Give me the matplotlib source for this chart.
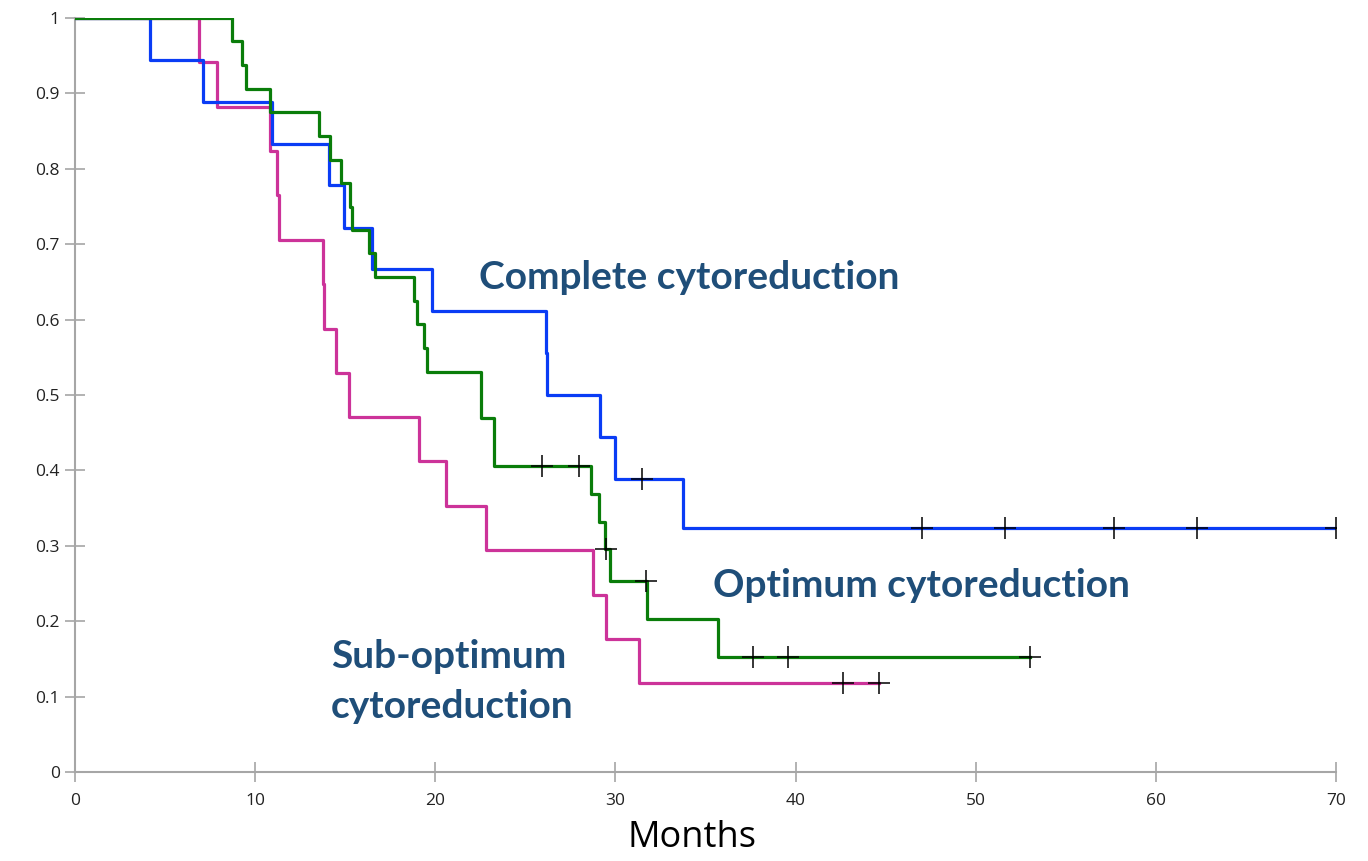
import matplotlib
matplotlib.use("Agg")
import matplotlib.pyplot as plt

# Kaplan-Meier step data (time in months, survival after step)
complete_t = [0, 4.17, 7.09, 10.96, 14.1, 14.94, 16.48, 19.8, 26.15, 26.2, 29.17, 29.96, 33.74, 70.0]
complete_s = [1.0, 0.944, 0.889, 0.833, 0.778, 0.722, 0.667, 0.611, 0.556, 0.5, 0.444, 0.389, 0.324, 0.324]
complete_cens_t = [31.5, 47.0, 51.6, 57.7, 62.3, 70.0]
complete_cens_s = [0.389, 0.324, 0.324, 0.324, 0.324, 0.324]

optimum_t = [0, 8.74, 9.26, 9.48, 10.83, 13.57, 14.13, 14.78, 15.28, 15.4, 16.3, 16.63,
             18.8, 18.98, 19.35, 19.54, 22.54, 23.24, 28.65, 29.1, 29.4, 29.72, 31.76, 35.7, 53.0]
optimum_s = [1.0, 0.969, 0.938, 0.906, 0.875, 0.844, 0.812, 0.781, 0.75, 0.719, 0.688, 0.656,
             0.625, 0.594, 0.562, 0.531, 0.469, 0.406, 0.369, 0.332, 0.296, 0.253, 0.203, 0.152, 0.152]
optimum_cens_t = [25.9, 28.0, 29.48, 31.7, 37.65, 39.57, 53.0]
optimum_cens_s = [0.406, 0.406, 0.296, 0.253, 0.152, 0.152, 0.152]

sub_t = [0, 6.9, 7.87, 10.83, 11.24, 11.33, 13.76, 13.85, 14.5, 15.22, 19.1, 20.6, 22.83,
         28.74, 29.48, 31.3, 44.63]
sub_s = [1.0, 0.941, 0.882, 0.824, 0.765, 0.706, 0.647, 0.588, 0.529, 0.471, 0.412, 0.353, 0.294,
         0.235, 0.176, 0.118, 0.118]
sub_cens_t = [42.65, 44.63]
sub_cens_s = [0.118, 0.118]

x_ticks = [0, 10, 20, 30, 40, 50, 60, 70]
y_ticks = [0, 0.1, 0.2, 0.3, 0.4, 0.5, 0.6, 0.7, 0.8, 0.9, 1.0]
y_labels = ["0", "0.1", "0.2", "0.3", "0.4", "0.5", "0.6", "0.7", "0.8", "0.9", "1"]

fig = plt.figure(figsize=(13.68, 8.61), dpi=100)
ax = fig.add_axes([75/1368, 1-772/861, (1336-75)/1368, (772-18)/861])

c_blue = "#0A3CF5"
c_green = "#0A7D0A"
c_mag = "#CC3399"
lw = 2.3

ax.step(sub_t, sub_s, where="post", color=c_mag, lw=lw, zorder=2)
ax.step(complete_t, complete_s, where="post", color=c_blue, lw=lw, zorder=3)
ax.step(optimum_t, optimum_s, where="post", color=c_green, lw=lw, zorder=4)

for ct, cs in [(complete_cens_t, complete_cens_s), (optimum_cens_t, optimum_cens_s), (sub_cens_t, sub_cens_s)]:
    ax.plot(ct, cs, linestyle="none", marker="+", markersize=16, mew=1.1, color="black", zorder=5)

ax.set_xlim(0, 70)
ax.set_ylim(0, 1)
ax.set_xticks(x_ticks)
ax.set_yticks(y_ticks)
ax.set_yticklabels(y_labels)
for s in ["top", "right"]:
    ax.spines[s].set_visible(False)
for s in ["left", "bottom"]:
    ax.spines[s].set_color("#A6A6A6")
    ax.spines[s].set_linewidth(1.5)
ax.tick_params(axis="both", direction="inout", length=14, width=1.2, color="#A6A6A6",
               labelsize=12.5, labelcolor="#222222")
ax.tick_params(axis="y", pad=4)
ax.tick_params(axis="x", pad=8)
for lab in ax.get_xticklabels() + ax.get_yticklabels():
    lab.set_fontfamily("Open Sans")

ax.set_xlabel("Months", fontsize=26, fontfamily="Open Sans", va="center")
ax.xaxis.set_label_coords((692-75)/1261, -(838-772)/754)

tc = "#1F4E79"
fs = 28
ax.text(22.4, 0.656, "Complete cytoreduction", color=tc, fontsize=fs, fontweight="bold",
        fontfamily="Lato", va="center", ha="left")
ax.text(35.4, 0.248, "Optimum cytoreduction", color=tc, fontsize=fs, fontweight="bold",
        fontfamily="Lato", va="center", ha="left")
ax.text(14.2, 0.153, "Sub-optimum", color=tc, fontsize=fs, fontweight="bold",
        fontfamily="Lato", va="center", ha="left")
ax.text(14.2, 0.087, "cytoreduction", color=tc, fontsize=fs, fontweight="bold",
        fontfamily="Lato", va="center", ha="left")

fig.savefig("out.png", dpi=100)
